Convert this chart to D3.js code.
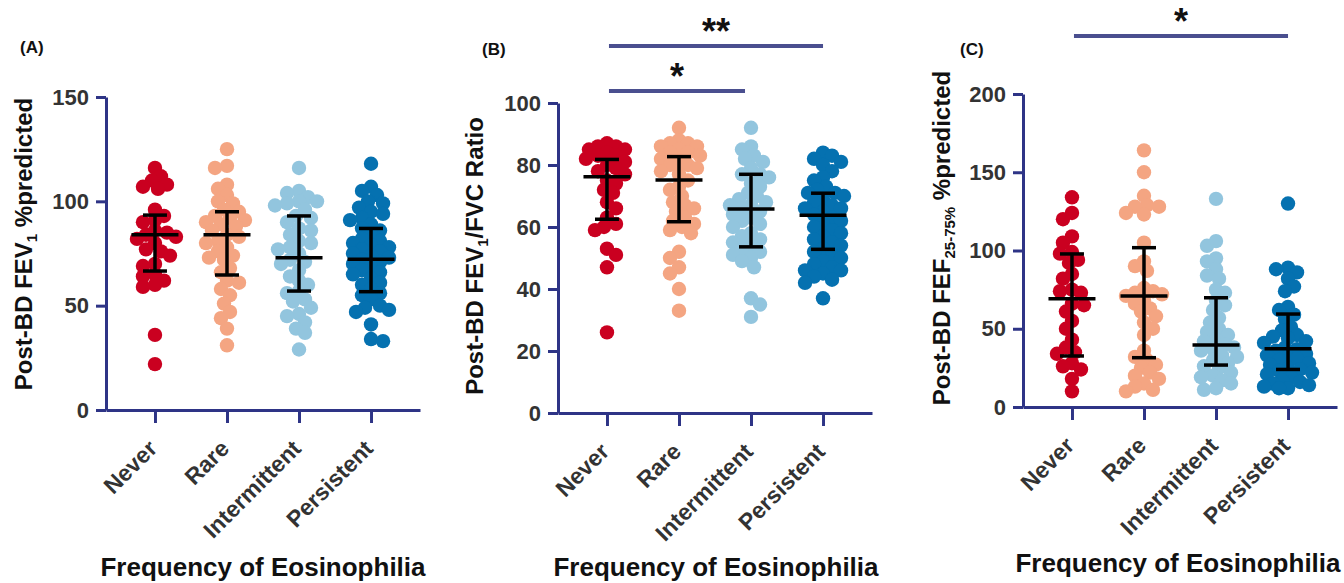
<!DOCTYPE html>
<html>
<head>
<meta charset="utf-8">
<script src="https://cdn.jsdelivr.net/npm/d3@7"></script>
<style>
  body { margin: 0; background: #fff; }
  svg text { font-family: 'Liberation Sans', Arial, sans-serif; font-weight: bold; }
</style>
</head>
<body>
<svg id="fig" width="1344" height="583"></svg>
<script>
/* Post-BD lung function by frequency of eosinophilia — three scatter panels */
const categories = ['Never', 'Rare', 'Intermittent', 'Persistent'];
const colors = ['#ca0020', '#f4a582', '#92c5de', '#0571b0'];
const axisColor = '#2e3486';

// panel A: FEV1 %predicted
const neverA = [116, 112, 110, 108, 107, 106, 96, 93, 91, 90, 86, 85, 84, 83, 82, 80, 77, 76, 74, 70, 69, 65, 64, 62, 60, 59, 36, 22];
const rareA = [125, 117, 116, 108, 106, 103, 100, 99, 96, 95, 93, 92, 91, 90, 89, 88, 86, 84, 83, 81, 80, 78, 76, 74, 73, 72, 68, 66, 62, 61, 58, 55, 51, 47, 44, 39, 31];
const intA = [116, 105, 104, 102, 100, 100, 99, 98, 96, 93, 92, 90, 87, 86, 84, 81, 80, 78, 77, 75, 72, 71, 70, 67, 64, 62, 60, 57, 56, 53, 52, 49, 46, 45, 42, 39, 37, 29];
const persA = [118, 107, 105, 103, 100, 99, 97, 95, 94, 92, 91, 89, 87, 86, 84, 82, 81, 80, 79, 78, 77, 76, 75, 74, 73, 72, 71, 70, 69, 67, 66, 65, 63, 61, 60, 58, 56, 55, 53, 50, 49, 48, 47, 41, 34, 33];
const centerA = [84, 84, 73, 72.2];
const lowA = [66.6, 64.7, 57, 56.7];
const highA = [93.4, 95, 93, 87];
const ticksA = [0, 50, 100, 150];

// panel B: FEV1/FVC ratio
const neverB = [87, 86, 86, 85, 85, 84, 83, 83, 82, 81, 80, 79, 78, 77, 75, 74, 72, 71, 68, 66, 63, 61, 60, 59, 53, 51, 47, 26];
const rareB = [92, 88, 87, 87, 86, 86, 85, 84, 84, 83, 82, 81, 80, 80, 79, 78, 77, 75, 73, 72, 70, 68, 67, 66, 65, 63, 62, 61, 60, 59, 58, 52, 50, 47, 45, 40, 33];
const intB = [92, 86, 85, 83, 82, 81, 79, 77, 77, 76, 74, 73, 71, 70, 69, 68, 67, 67, 66, 65, 64, 63, 62, 61, 60, 58, 57, 56, 55, 54, 53, 52, 51, 50, 49, 47, 37, 35, 31];
const persB = [84, 83, 82, 81, 80, 78, 76, 75, 73, 72, 71, 71, 70, 69, 68, 67, 66, 66, 65, 64, 63, 62, 61, 60, 59, 58, 57, 56, 55, 54, 53, 52, 51, 50, 49, 48, 47, 46, 46, 45, 44, 43, 42, 37];
const centerB = [76.2, 75.2, 65.8, 63.8];
const lowB = [62.5, 61.7, 53.6, 52.8];
const highB = [81.8, 82.7, 77, 70.9];
const ticksB = [0, 20, 40, 60, 80, 100];
const sigB = [['Never', 'Intermittent', '*'], ['Never', 'Persistent', '**']];

// panel C: FEF25-75% %predicted
const neverC = [134, 124, 120, 109, 105, 99, 98, 94, 92, 85, 82, 75, 74, 73, 66, 65, 61, 55, 50, 43, 38, 35, 34, 28, 26, 24, 18, 10];
const rareC = [164, 150, 135, 129, 128, 128, 124, 123, 105, 93, 90, 87, 76, 74, 73, 72, 71, 68, 66, 63, 61, 58, 54, 50, 46, 36, 32, 30, 27, 25, 22, 20, 18, 15, 13, 11, 10];
const intC = [133, 106, 103, 95, 93, 88, 84, 82, 75, 73, 68, 65, 62, 57, 54, 50, 48, 46, 43, 42, 40, 38, 37, 36, 33, 32, 30, 28, 26, 25, 22, 20, 19, 17, 15, 12, 11];
const persC = [130, 89, 88, 86, 82, 77, 74, 64, 62, 59, 56, 51, 49, 46, 45, 44, 42, 41, 38, 37, 36, 34, 33, 32, 31, 30, 28, 27, 25, 24, 23, 22, 21, 19, 17, 16, 15, 14, 13, 12, 12];
const centerC = [69.2, 70.9, 39.6, 37.3];
const lowC = [32.6, 31.5, 26.8, 24];
const highC = [97.8, 101.8, 69.8, 59.4];
const ticksC = [0, 50, 100, 150, 200];
const sigC = [['Never', 'Persistent', '*']];

const svg = d3.select('#fig');
const R = 7.2, MIN_D = 9.5, STEP = 3, MAX_K = 8;

// greedy beeswarm: returns x offsets for each value
function swarm(vals, y) {
    const pts = vals.map(v => ({ v, y: y(v), dx: 0 })).sort((a, b) => a.y - b.y);
    const placed = [];
    pts.forEach((p, i) => {
        let best = 0, bestScore = Infinity;
        outer:
        for (let k = 0; k <= MAX_K; k++) {
            const signs = k === 0 ? [1] : (i % 2 ? [1, -1] : [-1, 1]);
            for (const s of signs) {
                const dx = s * k * STEP;
                let over = 0;
                placed.forEach(q => {
                    const d = Math.hypot(q.dx - dx, q.y - p.y);
                    if (d < MIN_D) over += MIN_D - d;
                });
                if (over === 0) { best = dx; break outer; }
                if (over < bestScore - 0.5) { bestScore = over; best = dx; }
            }
        }
        p.dx = best;
        placed.push(p);
    });
    return pts;
}

function drawPanel(cfg) {
    const g = svg.append('g');
    const y = d3.scaleLinear().domain([0, cfg.max]).range([cfg.y0, cfg.yTop]);
    const x = d3.scalePoint().domain(categories).range([cfg.ax, cfg.ax + 314]).padding(0.68);

    // dots
    cfg.groups.forEach((vals, i) => {
        const cx = x(categories[i]);
        g.append('g').selectAll('circle').data(swarm(vals, y)).enter().append('circle')
            .attr('cx', d => cx + d.dx).attr('cy', d => d.y).attr('r', R)
            .attr('fill', colors[i]);
    });

    // mean/spread bars
    categories.forEach((c, i) => {
        const cx = x(c);
        const eb = g.append('g').attr('stroke', '#000').attr('stroke-width', 3.5);
        eb.append('line').attr('x1', cx).attr('x2', cx).attr('y1', y(cfg.low[i])).attr('y2', y(cfg.high[i]));
        eb.append('line').attr('x1', cx - 23.5).attr('x2', cx + 23.5).attr('y1', y(cfg.center[i])).attr('y2', y(cfg.center[i]));
        eb.append('line').attr('x1', cx - 12).attr('x2', cx + 12).attr('y1', y(cfg.low[i])).attr('y2', y(cfg.low[i]));
        eb.append('line').attr('x1', cx - 12).attr('x2', cx + 12).attr('y1', y(cfg.high[i])).attr('y2', y(cfg.high[i]));
    });

    // axes
    const ya = g.append('g').attr('transform', `translate(${cfg.ax},0)`)
        .call(d3.axisLeft(y).tickValues(cfg.ticks).tickSize(10).tickSizeOuter(0));
    const xa = g.append('g').attr('transform', `translate(0,${cfg.y0})`)
        .call(d3.axisBottom(x).tickSize(13).tickSizeOuter(0));
    [ya, xa].forEach(a => {
        a.select('.domain').attr('stroke', axisColor).attr('stroke-width', 3);
        a.selectAll('.tick line').attr('stroke', axisColor).attr('stroke-width', 3);
    });
    ya.selectAll('text').attr('x', -17).attr('font-size', '22px').attr('fill', '#333');
    xa.selectAll('text').attr('x', 0).attr('y', 0).attr('dy', 0)
        .attr('text-anchor', 'end').attr('transform', 'translate(3,40) rotate(-45)')
        .attr('font-size', '23px').attr('fill', '#333');

    // panel letter
    g.append('text').attr('x', cfg.lx).attr('y', cfg.ly).attr('font-size', '17px').attr('fill', '#111').text(cfg.letter);

    // y title
    const yt = g.append('text').attr('transform', `translate(${cfg.tx},${cfg.ty}) rotate(-90)`)
        .attr('text-anchor', 'middle').attr('font-size', '24px').attr('fill', '#111');
    cfg.ytitle.forEach(part => {
        const t = yt.append('tspan').text(part[0]);
        if (part[1] === 'sub') t.attr('font-size', '15px').attr('dy', 5);
        if (part[1] === 'back') t.attr('dy', -5);
    });

    // x title
    g.append('text').attr('x', cfg.ax + cfg.xtOff).attr('y', cfg.xtY).attr('text-anchor', 'middle')
        .attr('font-size', '26px').attr('fill', '#111').text('Frequency of Eosinophilia');

    // significance bars
    (cfg.sig || []).forEach((s, k) => {
        const by = cfg.sigY[k];
        const x1 = x(s[0]) + 2, x2 = x(s[1]) - (k === 0 && cfg.sig.length > 1 ? 6 : 0);
        g.append('line').attr('x1', x1).attr('x2', x2).attr('y1', by).attr('y2', by)
            .attr('stroke', '#4a4f8f').attr('stroke-width', 4);
        g.append('text').attr('x', (x1 + x2) / 2).attr('y', by - 2).attr('text-anchor', 'middle')
            .attr('font-size', '36px').attr('fill', '#111').text(s[2]);
    });
}

drawPanel({
    letter: '(A)', lx: 20, ly: 53,
    groups: [neverA, rareA, intA, persA], center: centerA, low: lowA, high: highA,
    max: 150, ticks: ticksA, ax: 106, y0: 410, yTop: 97,
    tx: 32, ty: 244, xtOff: 157, xtY: 576,
    ytitle: [['Post-BD FEV'], ['1', 'sub'], [' %predicted', 'back']]
});
drawPanel({
    letter: '(B)', lx: 482, ly: 55,
    groups: [neverB, rareB, intB, persB], center: centerB, low: lowB, high: highB,
    max: 100, ticks: ticksB, ax: 558, y0: 413, yTop: 103,
    tx: 483, ty: 256, xtOff: 158, xtY: 576,
    ytitle: [['Post-BD FEV'], ['1', 'sub'], ['/FVC Ratio', 'back']],
    sig: sigB, sigY: [91, 46]
});
drawPanel({
    letter: '(C)', lx: 960, ly: 55,
    groups: [neverC, rareC, intC, persC], center: centerC, low: lowC, high: highC,
    max: 200, ticks: ticksC, ax: 1023, y0: 407, yTop: 94,
    tx: 950, ty: 238, xtOff: 155, xtY: 572,
    ytitle: [['Post-BD FEF'], ['25-75%', 'sub'], [' %predicted', 'back']],
    sig: sigC, sigY: [36]
});
</script>
</body>
</html>
